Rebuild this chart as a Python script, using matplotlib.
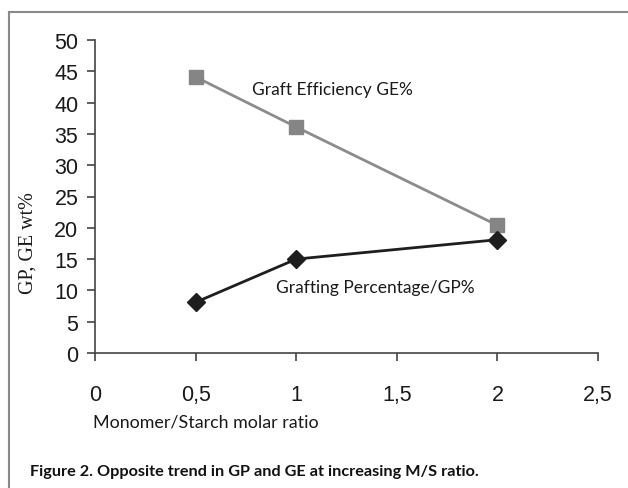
import matplotlib
matplotlib.use("Agg")
import matplotlib.pyplot as plt
from matplotlib.lines import Line2D

# data
ratio = [0.5, 1, 2]
ge = [44.1, 36.1, 20.4]   # Graft Efficiency GE%
gp = [8.1, 15.0, 18.1]    # Grafting Percentage/GP%
xticks = [0, 0.5, 1, 1.5, 2, 2.5]
xticklabels = ["0", "0,5", "1", "1,5", "2", "2,5"]
yticks = list(range(0, 51, 5))

W, H = 628, 489
fig = plt.figure(figsize=(W / 100, H / 100), dpi=100)
ax = fig.add_axes([95 / W, 1 - 354 / H, (598 - 95) / W, (354 - 41) / H])

ax.plot(ratio, ge, color="#8c8c8c", lw=2, marker="s", ms=10,
        mfc="#858585", mec="#858585", clip_on=False)
ax.plot(ratio, gp, color="#1e1e1e", lw=2, marker="D", ms=9,
        mfc="#1e1e1e", mec="#1e1e1e", clip_on=False)

ax.set_xlim(0, 2.5)
ax.set_ylim(0, 50)
ax.set_xticks(xticks)
ax.set_xticklabels(xticklabels)
ax.set_yticks(yticks)
for s in ["top", "right"]:
    ax.spines[s].set_visible(False)
for s in ["left", "bottom"]:
    ax.spines[s].set_color("#444444")
    ax.spines[s].set_linewidth(1.2)
ax.tick_params(axis="both", direction="out", length=6, width=1.2, color="#444444",
               labelsize=15.5, labelcolor="#1a1a1a")
ax.tick_params(axis="x", pad=16)
ax.tick_params(axis="y", pad=6)
for lab in ax.get_xticklabels() + ax.get_yticklabels():
    lab.set_family("Liberation Sans")

txt = dict(family="Lato", fontsize=12.5, color="#1a1a1a", va="center", ha="left")
ax.text(0.78, 42.2, "Graft Efficiency GE%", **txt)
ax.text(0.90, 10.5, "Grafting Percentage/GP%", **txt)

fig.text(28 / W, 1 - 243 / H, "GP, GE wt%", rotation=90, ha="center", va="center",
         family="Liberation Serif", fontsize=14.5, color="#1a1a1a")
fig.text(93 / W, 1 - 422 / H, "Monomer/Starch molar ratio", ha="left", va="center",
         family="Lato", fontsize=12.9, color="#1a1a1a")
fig.text(30 / W, 1 - 472 / H, "Figure 2. Opposite trend in GP and GE at increasing M/S ratio.",
         ha="left", va="center", family="Lato", fontweight="bold", fontsize=11.7,
         color="#111111")

# outer frame (top and left edges only)
fig.add_artist(Line2D([8.5 / W, 1], [1 - 13 / H, 1 - 13 / H], transform=fig.transFigure,
                      color="#8a8a8a", lw=1.5))
fig.add_artist(Line2D([8.5 / W, 8.5 / W], [0, 1 - 13 / H], transform=fig.transFigure,
                      color="#8a8a8a", lw=1.5))

fig.savefig("out.png", dpi=100)
